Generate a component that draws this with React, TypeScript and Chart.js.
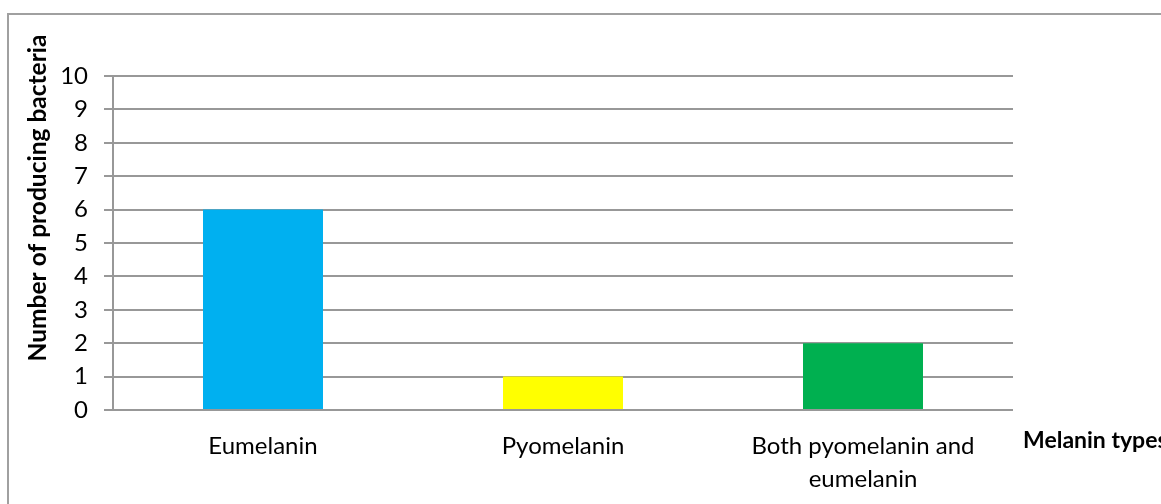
import React, { useEffect, useRef } from "react";
import { Chart, registerables } from "chart.js";

Chart.register(...registerables);

// Melanin production counts per pigment type
const categories: (string | string[])[] = [
  "Eumelanin",
  "Pyomelanin",
  ["Both pyomelanin and", "eumelanin"],
];
const producerCounts: number[] = [6, 1, 2];
const barColors: string[] = ["#00B0F0", "#FFFF00", "#00B050"];
const yTitle = "Number of producing bacteria";
const xTitle = "Melanin types";

const FONT = "Lato, 'Open Sans', sans-serif";
const GRID = "#989898";

// Outer frame plus the two axis captions placed beside the plot area
const decorations = {
  id: "decorations",
  beforeDraw(chart: Chart) {
    const { ctx } = chart;
    ctx.save();
    ctx.fillStyle = "#ffffff";
    ctx.fillRect(0, 0, chart.width, chart.height);
    ctx.strokeStyle = "#a0a0a0";
    ctx.lineWidth = 2;
    ctx.strokeRect(8, 14, chart.width + 40, chart.height + 40);
    ctx.restore();
  },
  afterDraw(chart: Chart) {
    const { ctx, chartArea } = chart;
    ctx.save();
    ctx.fillStyle = "#000000";
    ctx.font = `bold 24.5px ${FONT}`;
    ctx.textBaseline = "middle";
    ctx.textAlign = "center";
    ctx.translate(38, 198);
    ctx.rotate(-Math.PI / 2);
    ctx.fillText(yTitle, 0, 0);
    ctx.restore();

    ctx.save();
    ctx.fillStyle = "#000000";
    ctx.font = `bold 23px ${FONT}`;
    ctx.textBaseline = "middle";
    ctx.textAlign = "left";
    ctx.fillText(xTitle, chartArea.right + 10, 441);
    ctx.restore();
  },
};

export default function App() {
  const canvasRef = useRef<HTMLCanvasElement | null>(null);

  useEffect(() => {
    if (!canvasRef.current) return;
    const chart = new Chart(canvasRef.current, {
      type: "bar",
      data: {
        labels: categories,
        datasets: [
          {
            data: producerCounts,
            backgroundColor: barColors,
            borderWidth: 0,
            categoryPercentage: 1,
            barPercentage: 0.4,
          },
        ],
      },
      options: {
        animation: false,
        responsive: false,
        maintainAspectRatio: false,
        layout: { padding: { left: 0, top: 76, right: 148, bottom: 0 } },
        plugins: {
          legend: { display: false },
          tooltip: { enabled: false },
        },
        scales: {
          x: {
            grid: { display: false },
            border: { display: false },
            ticks: {
              color: "#000000",
              padding: 12,
              maxRotation: 0,
              autoSkip: false,
              font: { family: FONT, size: 24, lineHeight: 1.375 },
            },
            afterFit(scale: any) {
              scale.height = 94;
            },
          },
          y: {
            min: 0,
            max: 10,
            ticks: {
              stepSize: 1,
              color: "#000000",
              padding: 16,
              font: { family: FONT, size: 24 },
            },
            grid: {
              color: GRID,
              lineWidth: 2,
              tickLength: 9,
              tickColor: GRID,
            },
            border: { display: true, color: GRID, width: 2 },
            afterFit(scale: any) {
              scale.width = 113;
            },
          },
        },
      },
      plugins: [decorations],
    });
    return () => chart.destroy();
  }, []);

  return (
    <div
      style={{
        position: "absolute",
        left: 0,
        top: 0,
        width: 1161,
        height: 504,
        overflow: "hidden",
      }}
    >
      <canvas ref={canvasRef} width={1161} height={504} style={{ display: "block" }} />
    </div>
  );
}
